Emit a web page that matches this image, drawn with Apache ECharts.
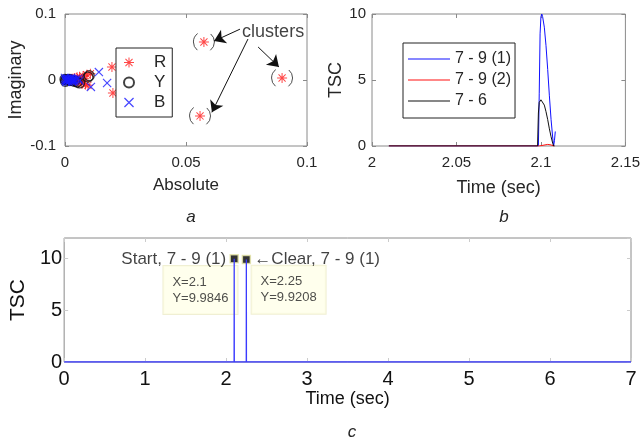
<!DOCTYPE html>
<html><head><meta charset="utf-8">
<script src="https://cdn.jsdelivr.net/npm/echarts@6/dist/echarts.min.js"></script>
<style>html,body{margin:0;padding:0;background:#fff}#c{width:643px;height:439px}</style>
</head><body><div id="c"></div>
<script>
// ---------- Panel a data (Absolute, Imaginary) ----------
const rPoints = [[0.0574,0.0576],[0.0558,-0.0545],[0.0897,0.003],[0.0194,0.0197],[0.0198,-0.0197],
  [0.0105,0.0095],[0.0095,-0.008],[0.009,0.008],[0.0085,-0.007],[0.0075,0.006],[0.007,-0.0055],
  [0.006,0.005],[0.0055,-0.0045],[0.005,0.004],[0.0045,-0.003],[0.004,0.003],[0.0035,-0.002],
  [0.003,0.002],[0.0025,-0.0015],[0.002,0.001],[0.0015,-0.001],[0.001,0.0005],[0.008,0.002],[0.0065,-0.002]];
const yPoints = [[0.01,0.0065],[0.0095,0.0045],[0.006,-0.0045],[0.005,-0.003],[0.004,-0.002],
  [0.003,-0.001],[0.002,0.001],[0.0015,0.0005],[0.001,0],[0.0005,0.0005],[0.0025,-0.0005],[0,0.001],[0.0002,-0.002]];
const bPoints = [[0.014,0.012],[0.0174,-0.0045],[0.0107,-0.0105],[0.0045,0.001],[0.004,-0.001],
  [0.0035,0.0015],[0.003,-0.0015],[0.0025,0.001],[0.002,-0.001],[0.0015,0.0015],[0.001,-0.0005],
  [0.0005,0.001],[0,0],[0.0005,-0.001],[0.001,0.001],[0.002,0.0015],[0.003,0.0005],[0.0035,-0.0005],
  [0.0055,0.002],[0.006,-0.001],[0,0.003],[0.0005,-0.003],[0.001,0.0025],[0.0015,-0.0025],[0.0025,0.003],[0.003,-0.0028]];
const clusterPoints = [[0.0574,0.0576],[0.0558,-0.0545],[0.0897,0.003]];
const clusterText = 'clusters';
const clusterTextPos = [0.086, 0.0727];
const clusterArrows = [
  [[0.0723,0.077],[0.0616,0.059]],
  [[0.0756,0.062],[0.0607,-0.049]],
  [[0.0798,0.05],[0.0884,0.0197]]
];
const aXTicks = {min:0, max:0.1, interval:0.05};
const aYTicks = {min:-0.1, max:0.1, interval:0.1};

// ---------- Panel b data (Time, TSC) ----------
const bNames = ['7 - 9 (1)', '7 - 9 (2)', '7 - 6'];
const tsc79_1 = [[2.01,0],[2.0985,0],[2.099,4],[2.0995,8.5],[2.1,9.8],[2.1005,10],[2.101,9.8],
  [2.102,9],[2.103,7.6],[2.104,5.8],[2.105,3.8],[2.106,2],[2.107,0.6],[2.1075,0],[2.108,0.4],[2.1085,1.1]];
const tsc79_2 = [[2.01,0],[2.099,0],[2.1,0.1],[2.104,0.12],[2.106,0.08],[2.1075,0],[2.108,0]];
const tsc76 = [[2.01,0],[2.098,0],[2.0985,2.5],[2.099,3.3],[2.1,3.5],[2.101,3.4],[2.102,3.1],
  [2.103,2.6],[2.104,2],[2.105,1.3],[2.106,0.7],[2.107,0.2],[2.1075,0],[2.108,0]];
const bXTicks = {min:2, max:2.15, interval:0.05};
const bYTicks = {min:0, max:10, interval:5};

// ---------- Panel c data ----------
const cSeries = [[0,0],[2.099,0],[2.1,9.9846],[2.101,0],[2.249,0],[2.25,9.9208],[2.251,0],[7,0]];
const tipX = [2.1, 2.25];
const tipY = [9.9846, 9.9208];
const tipTexts = ['Start, 7 - 9 (1)', '\u2190Clear, 7 - 9 (1)'];
const cXTicks = {min:0, max:7, interval:1};
const cYTicks = {min:0, max:12, interval:5};

const captions = ['a','b','c'];

// ---------- styling ----------
const FONT = 'Liberation Sans, Arial, sans-serif';
const TXT = '#262626';
const BOX = '#8a8a8a';

const asteriskPath = 'path://M9,0L11,0L11,20L9,20ZM0,9L20,9L20,11L0,11ZM2.2,3.6L3.6,2.2L17.8,16.4L16.4,17.8ZM16.4,2.2L17.8,3.6L3.6,17.8L2.2,16.4Z';
const crossPath = 'path://M2.2,3.6L3.6,2.2L17.8,16.4L16.4,17.8ZM16.4,2.2L17.8,3.6L3.6,17.8L2.2,16.4Z';
const lineIcon = 'path://M0,0L42,0L42,1.2L0,1.2Z';

function mainX(grid, t, name, o) {
  return Object.assign({type:'value', gridIndex:grid, min:t.min, max:t.max, interval:t.interval,
    name:name, nameLocation:'middle',
    axisLine:{show:false, onZero:false}, splitLine:{show:false},
    axisTick:{inside:true, length:4, lineStyle:{color:BOX}},
    axisLabel:{color:TXT, fontFamily:FONT}}, o);
}
function mainY(grid, t, name, o) {
  return Object.assign({type:'value', gridIndex:grid, min:t.min, max:t.max, interval:t.interval,
    name:name, nameLocation:'middle', nameRotate:90,
    axisLine:{show:false, onZero:false}, splitLine:{show:false},
    axisTick:{inside:true, length:4, lineStyle:{color:BOX}},
    axisLabel:{color:TXT, fontFamily:FONT}}, o);
}
function mirrorX(grid, t, col) {
  return {type:'value', gridIndex:grid, position:'top', min:t.min, max:t.max, interval:t.interval,
    axisLine:{show:false, onZero:false}, splitLine:{show:false}, axisLabel:{show:false},
    axisTick:{inside:true, length:4, lineStyle:{color:col||BOX}}};
}
function mirrorY(grid, t, col) {
  return {type:'value', gridIndex:grid, position:'right', min:t.min, max:t.max, interval:t.interval,
    axisLine:{show:false, onZero:false}, splitLine:{show:false}, axisLabel:{show:false},
    axisTick:{inside:true, length:4, lineStyle:{color:col||BOX}}};
}
const capStyle = {fontStyle:'italic', fontWeight:'normal', fontSize:17, color:TXT, fontFamily:FONT};

const option = {
  animation:false,
  backgroundColor:'#fff',
  title: [
    {text:captions[0], left:186, top:204, textAlign:'center', textStyle:capStyle},
    {text:captions[1], left:499, top:204, textAlign:'center', textStyle:capStyle},
    {text:captions[2], left:347, top:419, textAlign:'center', textStyle:capStyle}
  ],
  grid: [
    {left:65, top:14, width:242, height:132, show:true, borderColor:BOX, borderWidth:1},
    {left:372, top:14, width:255, height:132, show:true, borderColor:BOX, borderWidth:1},
    {left:64, top:238, width:567, height:124, show:true, borderColor:BOX, borderWidth:1}
  ],
  legend: [
    {data:['R','Y','B'], orient:'vertical', left:116, top:48, width:68,
     padding:[6,6,6,7], itemWidth:40, itemHeight:10, itemGap:3,
     backgroundColor:'#fff', borderColor:'#222', borderWidth:1, borderRadius:0,
     textStyle:{fontSize:17, color:TXT, fontFamily:FONT}},
    {data:bNames.map(n=>({name:n, icon:lineIcon})), orient:'vertical', left:403, top:43,
     padding:[8,4,9,5], itemWidth:42, itemHeight:12, itemGap:5,
     backgroundColor:'#fff', borderColor:'#222', borderWidth:1, borderRadius:0,
     textStyle:{fontSize:16, color:TXT, fontFamily:FONT}}
  ],
  xAxis: [
    mainX(0, aXTicks, 'Absolute', {nameGap:31, nameTextStyle:{fontSize:17, color:TXT, fontFamily:FONT},
      axisLabel:{color:TXT, fontFamily:FONT, fontSize:15, margin:9}}),
    mainX(1, bXTicks, 'Time (sec)', {nameGap:33, nameTextStyle:{fontSize:18, color:TXT, fontFamily:FONT},
      axisLabel:{color:TXT, fontFamily:FONT, fontSize:15, margin:9, formatter:v=>String(+v.toFixed(2))}}),
    mainX(2, cXTicks, 'Time (sec)', {nameGap:25, nameTextStyle:{fontSize:18, color:'#111', fontFamily:FONT},
      axisTick:{inside:true, length:4, lineStyle:{color:'#ccc'}},
      axisLabel:{color:'#111', fontFamily:FONT, fontSize:20, margin:7}}),
    mirrorX(0, aXTicks), mirrorX(1, bXTicks), mirrorX(2, cXTicks, '#ccc')
  ],
  yAxis: [
    mainY(0, aYTicks, 'Imaginary', {nameGap:40, nameTextStyle:{fontSize:18, color:TXT, fontFamily:FONT},
      axisLabel:{color:TXT, fontFamily:FONT, fontSize:15, margin:9}}),
    mainY(1, bYTicks, 'TSC', {nameGap:20, nameTextStyle:{fontSize:18, color:TXT, fontFamily:FONT},
      axisLabel:{color:TXT, fontFamily:FONT, fontSize:15, margin:6}}),
    mainY(2, cYTicks, 'TSC', {nameGap:28, nameTextStyle:{fontSize:21, color:'#111', fontFamily:FONT},
      axisTick:{inside:true, length:4, lineStyle:{color:'#ccc'}},
      axisLabel:{color:'#111', fontFamily:FONT, fontSize:20, margin:2, showMaxLabel:false}}),
    mirrorY(0, aYTicks), mirrorY(1, bYTicks), mirrorY(2, cYTicks, '#ccc')
  ],
  series: [
    // panel a
    {name:'R', type:'scatter', xAxisIndex:0, yAxisIndex:0, data:rPoints,
     symbol:asteriskPath, symbolSize:10, itemStyle:{color:'#ff1a1a'}},
    {name:'Y', type:'scatter', xAxisIndex:0, yAxisIndex:0, data:yPoints,
     symbol:'circle', symbolSize:10, itemStyle:{color:'rgba(0,0,0,0)', borderColor:'#111', borderWidth:1.3}},
    {name:'B', type:'scatter', xAxisIndex:0, yAxisIndex:0, data:bPoints,
     symbol:crossPath, symbolSize:9, itemStyle:{color:'#1a1aff'}},
    {name:'rings', type:'scatter', xAxisIndex:0, yAxisIndex:0, data:clusterPoints, silent:true,
     symbol:'circle', symbolSize:21,
     itemStyle:{color:'rgba(0,0,0,0)', borderColor:'#222', borderWidth:1, borderType:[19,14], borderDashOffset:9.5},
     markLine:{silent:true, symbol:['none','arrow'], symbolSize:11, label:{show:false},
       lineStyle:{color:'#111', width:1, type:'solid'},
       data: clusterArrows.map(a => [{coord:a[0]}, {coord:a[1]}])}},
    {name:'clusterLabel', type:'scatter', xAxisIndex:0, yAxisIndex:0, data:[clusterTextPos], silent:true,
     symbolSize:0, label:{show:true, position:'inside', formatter:clusterText, fontSize:18, color:'#111', fontFamily:FONT}},
    // panel b
    {name:bNames[0], type:'line', xAxisIndex:1, yAxisIndex:1, data:tsc79_1, symbol:'none',
     lineStyle:{color:'#1010ff', width:1}, itemStyle:{color:'#1010ff'}},
    {name:bNames[1], type:'line', xAxisIndex:1, yAxisIndex:1, data:tsc79_2, symbol:'none',
     lineStyle:{color:'#ff1010', width:1}, itemStyle:{color:'#ff1010'}, z:3},
    {name:bNames[2], type:'line', xAxisIndex:1, yAxisIndex:1, data:tsc76, symbol:'none',
     lineStyle:{color:'#111', width:1}, itemStyle:{color:'#111'}},
    // panel c
    {name:'c', type:'line', xAxisIndex:2, yAxisIndex:2, data:cSeries, symbol:'none',
     lineStyle:{color:'#3a3aff', width:1.3}},
    {name:'tips', type:'scatter', xAxisIndex:2, yAxisIndex:2, silent:true,
     data: tipX.map((x,i)=>({value:[x, tipY[i]],
        label:{position: i===0 ? [-66, 12] : [10, 11]}})),
     symbol:'rect', symbolSize:8, itemStyle:{color:'#000', borderColor:'#e6e6a8', borderWidth:1.5},
     label:{show:true, formatter:p=>'X=' + p.value[0] + '\nY=' + p.value[1],
       backgroundColor:'#ffffe8', borderColor:'#ecebc8', borderWidth:1, padding:[8,9,8,9],
       fontFamily:FONT, fontSize:13, lineHeight:16, color:'#222', align:'left', verticalAlign:'top'}},
    {name:'tipText', type:'scatter', xAxisIndex:2, yAxisIndex:2, silent:true,
     data: tipX.map((x,i)=>({value:[x, tipY[i]], label:{position: i===0 ? 'left' : 'right', formatter: tipTexts[i]}})),
     symbolSize:0,
     label:{show:true, distance:8, fontFamily:FONT, fontSize:17, color:'#111'}}
  ]
};
const chart = echarts.init(document.getElementById('c'), null, {renderer:'canvas'});
chart.setOption(option);
</script></body></html>
